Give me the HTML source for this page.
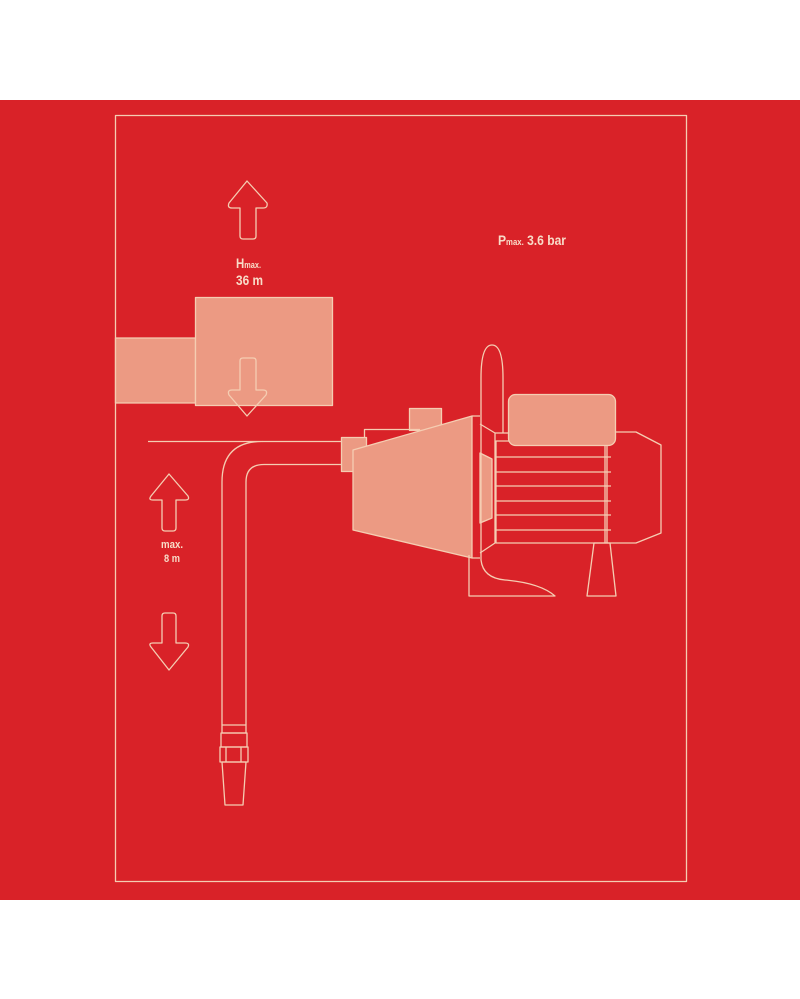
<!DOCTYPE html>
<html><head><meta charset="utf-8"><style>
html,body{margin:0;padding:0;background:#fff;}
svg{display:block;}
text{font-family:"Liberation Sans",sans-serif;font-weight:bold;fill:#f8dcc8;}
</style></head><body>
<svg width="800" height="999" viewBox="0 0 800 999" xmlns="http://www.w3.org/2000/svg">
<rect x="0" y="0" width="800" height="999" fill="#fff"/>
<rect x="0" y="100" width="800" height="800" fill="#d92228"/>
<g fill="none" stroke="#f5cdb2" stroke-width="1.3" stroke-linejoin="round">
<rect x="115.5" y="115.5" width="571" height="766"/>
<path d="M247 181 L267 203 Q268 208 263 208 L256 208 L256 236 Q256 239 253 239 L243 239 Q240 239 240 236 L240 208 L232 208 Q227 208 229 203 Z"/>
<rect x="115.5" y="338" width="80" height="65" fill="#ec9a83"/>
<rect x="195.5" y="297.5" width="137" height="108" fill="#ec9a83"/>
<path d="M243 358 L253 358 Q256 358 256 361 L256 390 L263 390 Q268 390 266 395 L247 416 L229 395 Q227 390 232 390 L240 390 L240 361 Q240 358 243 358 Z"/>
<path d="M169 474 L188 496 Q190 500 185 500 L176 500 L176 528 Q176 531 173 531 L165 531 Q162 531 162 528 L162 500 L153 500 Q148 500 151 496 Z"/>
<path d="M165 613 L173 613 Q176 613 176 616 L176 643 L185 643 Q190 643 188 647 L169 670 L151 647 Q148 643 153 643 L162 643 L162 616 Q162 613 165 613 Z"/>
<path d="M148 441.5 L262 441.5 Q222 441.5 222 482 L222 725"/>
<path d="M262 441.5 L342 441.5"/>
<path d="M342 464.5 L264 464.5 Q246 464.5 246 482 L246 725"/>
<rect x="222" y="725" width="24" height="8"/>
<rect x="221" y="733" width="26" height="14"/>
<rect x="220" y="747" width="28" height="15"/>
<line x1="226" y1="747" x2="226" y2="762"/><line x1="241" y1="747" x2="241" y2="762"/>
<path d="M222 762 L246 762 L243 805 L225 805 Z"/>
<rect x="409.5" y="408.5" width="32" height="22" fill="#ec9a83"/>
<path d="M364.5 447 L364.5 429.5 L420 429.5"/>
<rect x="341.5" y="437.5" width="25" height="34" fill="#ec9a83"/>
<path d="M353 450 L472 416 L472 558 L353 530 Z" fill="#ec9a83"/>
<path d="M472 416 L480 416 M472 558 L480 558"/>
<path d="M480 424 L495 433 L495 543 L480 553"/>
<path d="M495 433 L508 433"/>
<path d="M480 453 L492 459 L492 518 L480 523 Z" fill="#ec9a83"/>
<path d="M481 424 L481 378 Q481 345 492 345 Q503 345 503 378 L503 433"/>
<path d="M481 424 L481 560 Q483 578 505 580 Q540 583 555 596 L469 596 L469 555"/>
<rect x="496" y="441" width="111" height="102"/>
<g><line x1="496" y1="457" x2="611" y2="457"/><line x1="496" y1="472" x2="611" y2="472"/><line x1="496" y1="486" x2="611" y2="486"/><line x1="496" y1="501" x2="611" y2="501"/><line x1="496" y1="515" x2="611" y2="515"/><line x1="496" y1="530" x2="611" y2="530"/></g>
<line x1="605" y1="445" x2="605" y2="543"/>
<path d="M615 432 L636 432 L661 445 L661 533 L636 543 L607 543"/>
<rect x="508.5" y="394.5" width="107" height="51" rx="7" fill="#ec9a83"/>
<path d="M594 543 L610 543 L616 596 L587 596 Z"/>
</g>
<text x="236" y="268" font-size="14" textLength="25" lengthAdjust="spacingAndGlyphs">H<tspan font-size="9">max.</tspan></text>
<text x="236" y="285" font-size="14" textLength="27" lengthAdjust="spacingAndGlyphs">36 m</text>
<text x="161" y="548" font-size="11" textLength="22" lengthAdjust="spacingAndGlyphs">max.</text>
<text x="164" y="562" font-size="11" textLength="16" lengthAdjust="spacingAndGlyphs">8 m</text>
<text x="498" y="245" font-size="14" textLength="68" lengthAdjust="spacingAndGlyphs">P<tspan font-size="9">max.</tspan> 3.6 bar</text>
</svg>
</body></html>
